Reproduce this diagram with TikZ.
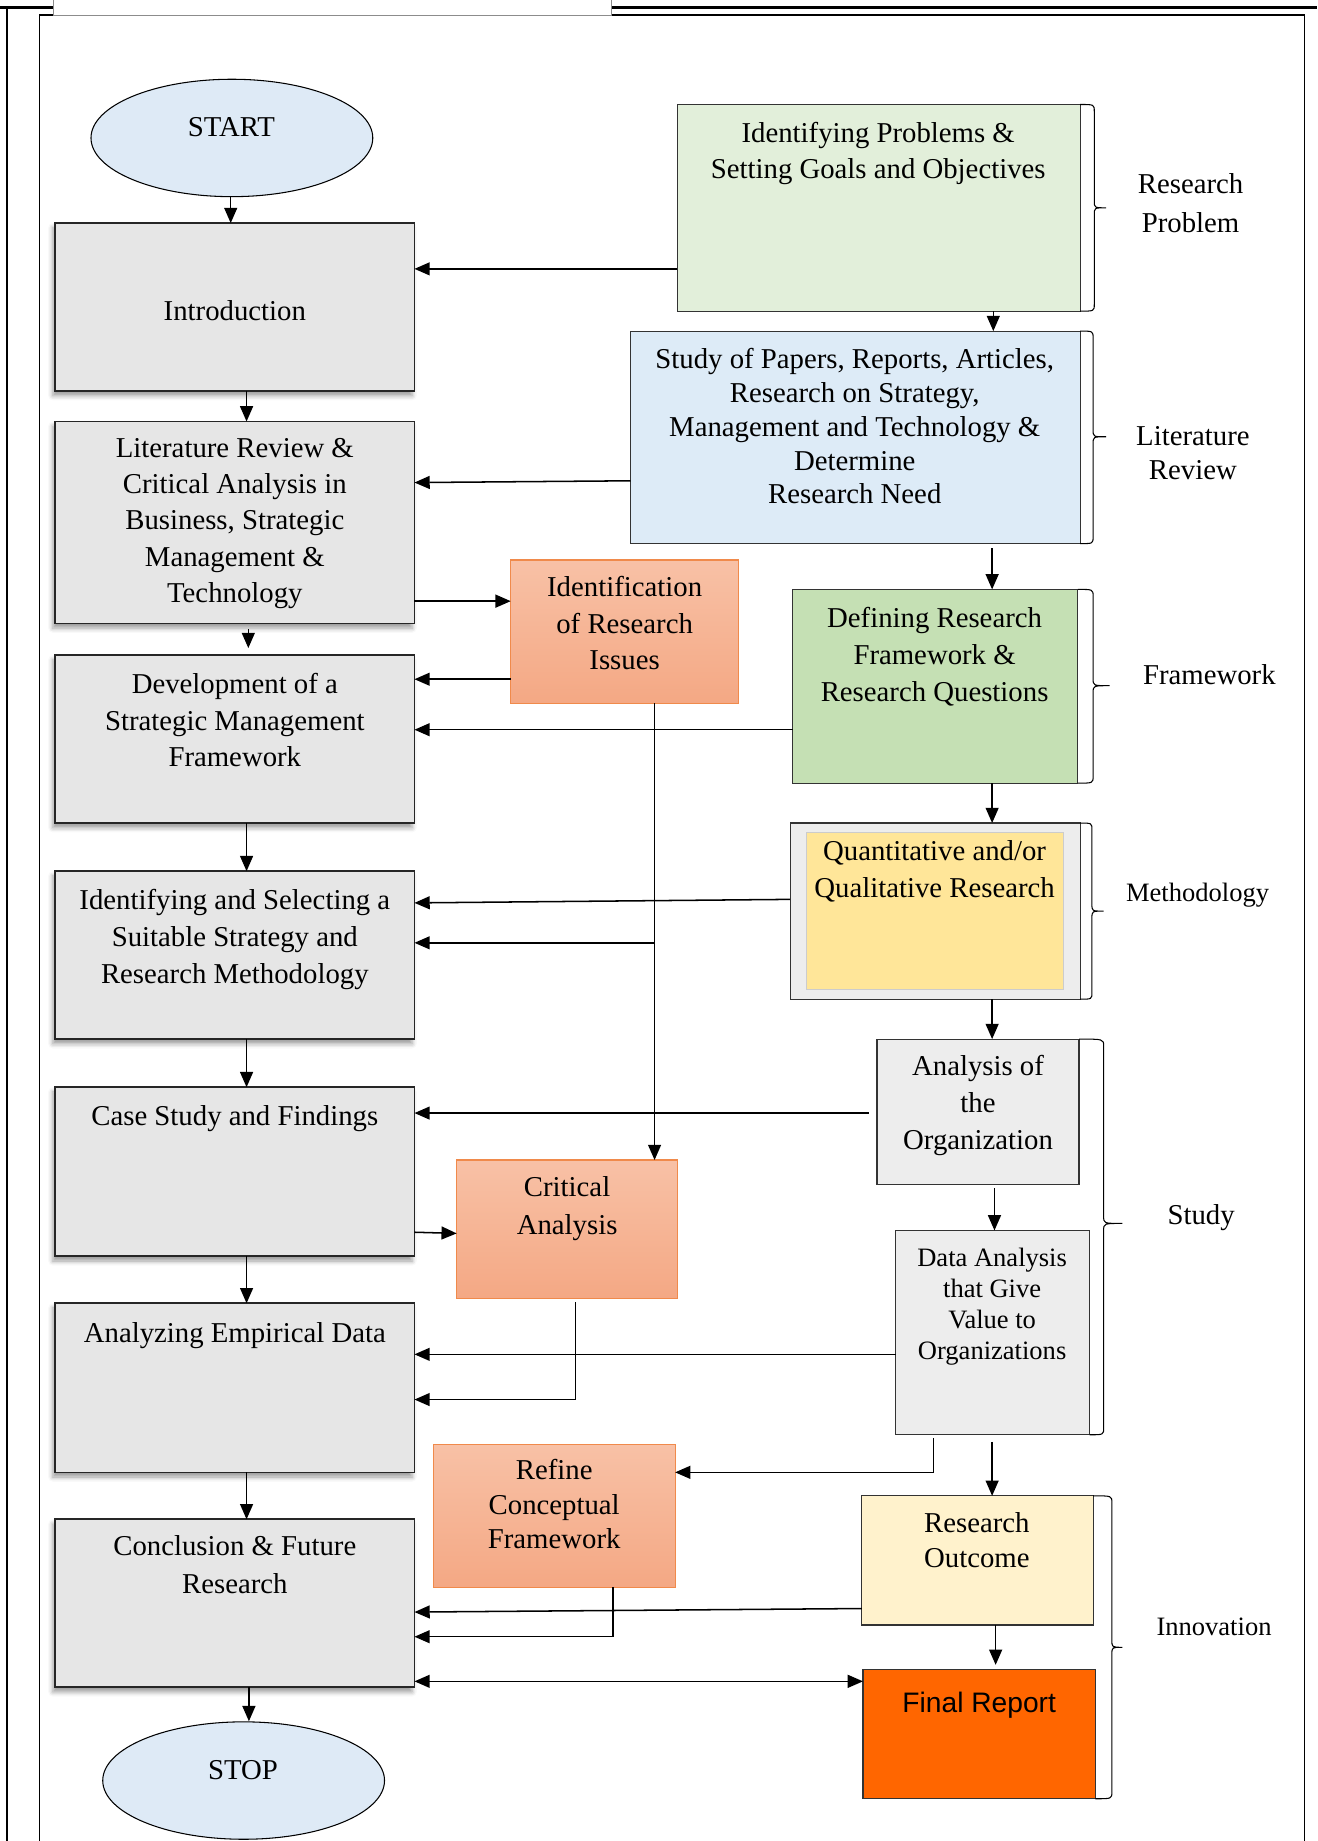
\documentclass[tikz,border=0pt]{standalone}
\usepackage{fontspec}
\setmainfont{Liberation Serif}
\newfontfamily\gothic{Liberation Sans}
\usetikzlibrary{arrows.meta,shadows.blur,shapes.geometric}
\definecolor{gfill}{HTML}{E6E6E6}
\definecolor{rgray}{HTML}{EDEDED}
\definecolor{ellfill}{HTML}{DEEAF6}
\definecolor{green1}{HTML}{E2EFDA}
\definecolor{blue1}{HTML}{DDEBF7}
\definecolor{green2}{HTML}{C5E0B4}
\definecolor{yell}{HTML}{FFE699}
\definecolor{cream}{HTML}{FFF2CC}
\definecolor{otop}{HTML}{F8C1A6}
\definecolor{obot}{HTML}{F4A884}
\definecolor{oline}{HTML}{F08A4B}
\definecolor{fin}{HTML}{FF6600}
\begin{document}
\begin{tikzpicture}[x=1pt,y=-1pt,
  every node/.style={outer sep=0pt},
  boxbase/.style={draw, anchor=north west, inner sep=0pt},
  lbox/.style={boxbase, fill=gfill, draw=black!85, line width=1.4pt,
    blur shadow={shadow xshift=-2pt,shadow yshift=-4pt,shadow blur radius=4pt,shadow opacity=40}},
  rbox/.style={boxbase, line width=1pt, draw=black!80},
  obox/.style={boxbase, draw=oline, line width=1pt, top color=otop, bottom color=obot},
  ell/.style={ellipse, draw, line width=0.9pt, fill=ellfill, minimum width=240pt, minimum height=100pt, inner sep=0pt},
  txt/.style={anchor=north, align=center, inner sep=0pt, font=\fontsize{24.5}{31}\selectfont},
  arr/.style={-{Triangle[length=13pt,width=11pt]}, line width=1.3pt},
  brk/.style={line width=0.9pt},
]
\useasboundingbox (0,0) rectangle (1122,1568);
% frames
\draw[line width=2pt] (0,6.5) -- (45.5,6.5);
\draw[line width=2pt] (521,6.5) -- (1122,6.5);
\draw[line width=1.5pt] (5.7,6.5) -- (5.7,1568);
\draw[line width=1.3pt] (33.5,1568) -- (33.5,13) -- (1111,13) -- (1111,1568);
\draw[black!45, fill=white, line width=0.8pt] (45.5,-2) rectangle (521,13);

% ellipses
\node[ell] (start) at (197.5,117.5) {};
\node[txt] (startT) at (197,100) {START};
\node[ell] (stop) at (207.5,1516.5) {};
\node[txt] (stopT) at (207,1499) {STOP};

% left column
\node[lbox, minimum width=306pt, minimum height=143pt] (intro) at (47,190) {};
\node[lbox, minimum width=306pt, minimum height=172pt] (lit) at (47,359) {};
\node[lbox, minimum width=306pt, minimum height=143pt] (dev) at (47,558) {};
\node[lbox, minimum width=306pt, minimum height=143pt] (sel) at (47,742) {};
\node[lbox, minimum width=306pt, minimum height=144pt] (case) at (47,926) {};
\node[lbox, minimum width=306pt, minimum height=144pt] (emp) at (47,1110) {};
\node[lbox, minimum width=306pt, minimum height=143pt] (concl) at (47,1294) {};

\node[txt] (introT) at (200,256) {Introduction};
\node[txt] (litT) at (200,373) {Literature Review \&\\Critical Analysis in\\Business, Strategic\\Management \&\\Technology};
\node[txt, font=\fontsize{24.5}{31.5}\selectfont] (devT) at (200,573) {Development of a\\Strategic Management\\Framework};
\node[txt, font=\fontsize{24.5}{31.5}\selectfont] (selT) at (200,757) {Identifying and Selecting a\\Suitable Strategy and\\Research Methodology};
\node[txt] (caseT) at (200,942) {Case Study and Findings};
\node[txt] (empT) at (200,1126) {Analyzing Empirical Data};
\node[txt, font=\fontsize{24.5}{32}\selectfont] (conclT) at (200,1308) {Conclusion \& Future\\Research};

% right column
\node[rbox, fill=green1, minimum width=343pt, minimum height=176pt] (prob) at (577,89) {};
\node[rbox, fill=blue1, minimum width=383pt, minimum height=181pt] (study) at (537,282) {};
\node[rbox, fill=green2, minimum width=243pt, minimum height=165pt] (frame) at (675,502) {};
\node[rbox, fill=rgray, minimum width=247pt, minimum height=150pt] (quant) at (673,701) {};
\node[boxbase, draw=black!20, line width=0.6pt, fill=yell, minimum width=219pt, minimum height=134pt] (quantin) at (687,709) {};
\node[rbox, fill=rgray, minimum width=172pt, minimum height=124pt] (org) at (747,885) {};
\node[rbox, fill=rgray, minimum width=165pt, minimum height=174pt] (data) at (763,1048) {};
\node[rbox, fill=cream, minimum width=197pt, minimum height=110pt] (outc) at (734,1274) {};
\node[rbox, fill=fin, minimum width=198pt, minimum height=110pt] (final) at (735,1422) {};

\node[txt] (probT) at (748,104) {Identifying Problems \&\\Setting Goals and Objectives};
\node[txt, font=\fontsize{24.5}{28.75}\selectfont] (studyT) at (728,297) {Study of Papers, Reports, Articles,\\Research on Strategy,\\Management and Technology \&\\Determine\\Research Need};
\node[txt, font=\fontsize{24.5}{31.5}\selectfont] (frameT) at (796,517) {Defining Research\\Framework \&\\Research Questions};
\node[txt] (quantT) at (796,716) {Quantitative and/or\\Qualitative Research};
\node[txt, font=\fontsize{24.5}{31.5}\selectfont] (orgT) at (833,899) {Analysis of\\the\\Organization};
\node[txt, font=\fontsize{22.6}{26.3}\selectfont] (dataT) at (845,1063) {Data Analysis\\that Give\\Value to\\Organizations};
\node[txt, font=\fontsize{24.5}{30}\selectfont] (outcT) at (832,1288) {Research\\Outcome};
\node[txt, font=\gothic\fontsize{24}{30}\selectfont] (finalT) at (834,1441) {Final Report};

% middle orange boxes
\node[obox, minimum width=194pt, minimum height=122pt] (issues) at (435,477) {};
\node[obox, minimum width=188pt, minimum height=118pt] (crit) at (389,988) {};
\node[obox, minimum width=206pt, minimum height=122pt] (refine) at (369,1230) {};
\node[txt] (issuesT) at (532,491) {Identification\\of Research\\Issues};
\node[txt, font=\fontsize{24.5}{32}\selectfont] (critT) at (483,1002) {Critical\\Analysis};
\node[txt, font=\fontsize{24.5}{29.5}\selectfont] (refineT) at (472,1243) {Refine\\Conceptual\\Framework};

% brackets
\draw[brk] (prob.north east) .. controls (932,89) .. (932,95) -- (932,171) .. controls (932,177) .. (942,177) .. controls (932,177) .. (932,183) -- (932,259) .. controls (932,265) .. (prob.south east);
\draw[brk] (study.north east) .. controls (931,282) .. (931,288) -- (931,366) .. controls (931,372) .. (942,372) .. controls (931,372) .. (931,378) -- (931,457) .. controls (931,463) .. (study.south east);
\draw[brk] (frame.north east) .. controls (931,502) .. (931,508) -- (931,578) .. controls (931,584) .. (945,584) .. controls (931,584) .. (931,590) -- (931,661) .. controls (931,667) .. (frame.south east);
\draw[brk] (quant.north east) .. controls (930,701) .. (930,707) -- (930,770) .. controls (930,776) .. (940,776) .. controls (930,776) .. (930,782) -- (930,845) .. controls (930,851) .. (quant.south east);
\draw[brk] (org.north east) .. controls (940,885) .. (940,891) -- (940,1036) .. controls (940,1042) .. (956,1042) .. controls (940,1042) .. (940,1048) -- (940,1216) .. controls (940,1222) .. (data.south east);
\draw[brk] (outc.north east) .. controls (947,1274) .. (947,1280) -- (947,1397) .. controls (947,1403) .. (956,1403) .. controls (947,1403) .. (947,1409) -- (947,1526) .. controls (947,1532) .. (final.south east);

% bracket labels
\node[txt, font=\fontsize{24.5}{33}\selectfont] (lab1) at (1014,148) {Research\\Problem};
\node[txt, font=\fontsize{24.5}{29}\selectfont] (lab2) at (1016,363) {Literature\\Review};
\node[txt] (lab3) at (1030,566) {Framework};
\node[txt, font=\fontsize{22.6}{28}\selectfont] (lab4) at (1020,752) {Methodology};
\node[txt] (lab5) at (1023,1026) {Study};
\node[txt, font=\fontsize{22.6}{28}\selectfont] (lab6) at (1034,1378) {Innovation};

% vertical arrows left
\draw[arr] (start.south -| 196.5,0) -- (intro.north -| 196.5,0);
\draw[arr] (intro.south -| 210,0) -- (lit.north -| 210,0);
\draw[arr, shorten <=5pt, shorten >=6pt] (lit.south -| 211.5,0) -- (dev.north -| 211.5,0);
\draw[arr] (dev.south -| 210,0) -- (sel.north -| 210,0);
\draw[arr] (sel.south -| 210,0) -- (case.north -| 210,0);
\draw[arr] (case.south -| 210,0) -- (emp.north -| 210,0);
\draw[arr] (emp.south -| 210,0) -- (concl.north -| 210,0);
\draw[arr] (concl.south -| 212,0) -- (212,1466);

% vertical arrows right
\draw[arr] (prob.south -| 846,0) -- (study.north -| 846,0);
\draw[arr, shorten <=4pt] (study.south -| 845,0) -- (frame.north -| 845,0);
\draw[arr] (frame.south -| 845,0) -- (quant.north -| 845,0);
\draw[arr] (quant.south -| 845,0) -- (org.north -| 845,0);
\draw[arr, shorten <=3pt] (org.south -| 847,0) -- (data.north -| 847,0);
\draw[arr, shorten <=6pt] (data.south -| 845,0) -- (outc.north -| 845,0);
\draw[arr, shorten >=4pt] (outc.south -| 848,0) -- (final.north -| 848,0);

% horizontal connectors
\draw[arr] (prob.west |- 0,229) -- (intro.east |- 0,229);
\draw[arr] (study.west |- 0,409.5) -- (lit.east |- 0,411);
\draw[arr] (lit.east |- 0,512) -- (issues.west |- 0,512);
\draw[arr] (issues.west |- 0,578.5) -- (dev.east |- 0,578.5);
\draw[arr] (frame.west |- 0,621.5) -- (dev.east |- 0,621.5);
\draw[arr] (issues.south -| 557.5,0) -- (crit.north -| 557.5,0);
\coordinate (j1) at (557.5,803);
\draw[arr] (j1) -- (sel.east |- j1);
\draw[arr] (quant.west |- 0,766) -- (sel.east |- 0,769);
\draw[arr, shorten <=7pt] (org.west |- 0,948) -- (case.east |- 0,948);
\draw[arr] (case.east |- 0,1049.5) -- (crit.west |- 0,1050.5);
\draw[arr] (data.west |- 0,1153.5) -- (emp.east |- 0,1153.5);
\draw[arr, shorten <=3pt] (crit.south -| 490,0) |- (emp.east |- 0,1192);
\draw[arr, shorten <=3pt] (data.south -| 795,0) |- (refine.east |- 0,1254);
\draw[arr] (refine.south -| 522,0) |- (concl.east |- 0,1394);
\draw[arr] (outc.west |- 0,1370) -- (concl.east |- 0,1373);
\draw[{Triangle[length=13pt,width=11pt]}-{Triangle[length=13pt,width=11pt]}, line width=1.3pt] (concl.east |- 0,1432) -- (final.west |- 0,1432);
\end{tikzpicture}
\end{document}
